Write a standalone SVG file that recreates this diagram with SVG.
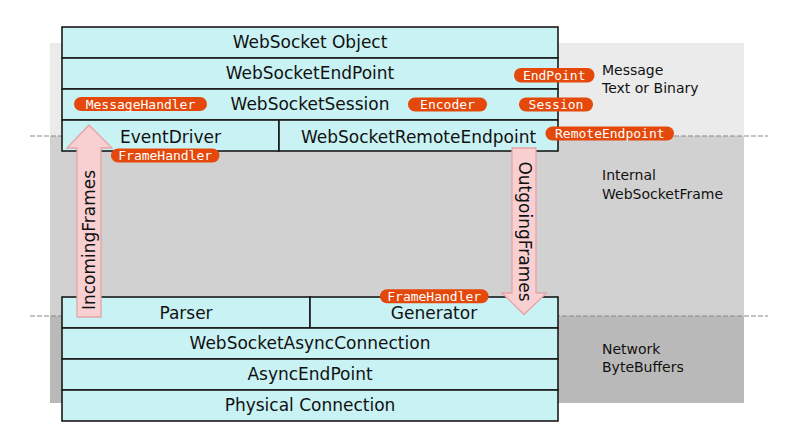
<svg xmlns="http://www.w3.org/2000/svg" width="800" height="434" viewBox="0 0 800 434">
<style>
.box{fill:#c9f2f4;stroke:#1a1a1a;stroke-width:1.6}
.t{font-family:"DejaVu Sans",sans-serif;font-size:17px;fill:#111;text-anchor:middle}
.side{font-family:"DejaVu Sans",sans-serif;font-size:14px;fill:#111}
.pill{fill:#e4490b}
.pt{font-family:"DejaVu Sans Mono",monospace;font-size:13px;fill:#fff;text-anchor:middle}
.dash{stroke:#8a8a8a;stroke-width:1.2;stroke-dasharray:5,2;fill:none}
.arrow{fill:#f8d0d1;stroke:#e6a3a6;stroke-width:1.3}
</style>
<rect width="800" height="434" fill="#ffffff"/>
<g id="bands">
<rect x="50" y="43" width="694" height="93" fill="#ebebeb"/>
<rect x="50" y="136" width="694" height="180" fill="#d1d1d1"/>
<rect x="50" y="316" width="694" height="87" fill="#b9b9b9"/>
<line class="dash" x1="30" y1="136" x2="768" y2="136"/>
<line class="dash" x1="30" y1="316" x2="768" y2="316"/>
</g>
<g id="side-labels">
<text class="side" x="602" y="74.5">Message</text>
<text class="side" x="602" y="92.5">Text or Binary</text>
<text class="side" x="602" y="180">Internal</text>
<text class="side" x="602" y="198.5">WebSocketFrame</text>
<text class="side" x="602" y="353.5">Network</text>
<text class="side" x="602" y="371.5">ByteBuffers</text>
</g>
<g id="websocket-object"><rect class="box" x="62" y="27" width="496" height="31"/><text class="t" x="310" y="48">WebSocket Object</text></g>
<g id="websocket-endpoint"><rect class="box" x="62" y="58" width="496" height="31"/><text class="t" x="310" y="79">WebSocketEndPoint</text></g>
<g id="websocket-session"><rect class="box" x="62" y="89" width="496" height="31"/><text class="t" x="310" y="110">WebSocketSession</text></g>
<g id="event-driver"><rect class="box" x="62" y="120" width="217" height="31"/><text class="t" x="170.5" y="142.5">EventDriver</text></g>
<g id="websocket-remote-endpoint"><rect class="box" x="279" y="120" width="279" height="31"/><text class="t" x="418.5" y="142.5">WebSocketRemoteEndpoint</text></g>
<g id="parser"><rect class="box" x="62" y="297" width="248" height="31"/><text class="t" x="186" y="319">Parser</text></g>
<g id="generator"><rect class="box" x="310" y="297" width="248" height="31"/><text class="t" x="434" y="319">Generator</text></g>
<g id="websocket-async-connection"><rect class="box" x="62" y="328" width="496" height="31"/><text class="t" x="310" y="349">WebSocketAsyncConnection</text></g>
<g id="async-endpoint"><rect class="box" x="62" y="359" width="496" height="31"/><text class="t" x="310" y="380">AsyncEndPoint</text></g>
<g id="physical-connection"><rect class="box" x="62" y="390" width="496" height="31"/><text class="t" x="310" y="411">Physical Connection</text></g>
<g id="connectors">
<g id="incoming-frames">
<path class="arrow" d="M89,125 L112,148 L101,148 L101,317 L77,317 L77,148 L67,148 Z"/>
<text class="t" transform="translate(94.5,240) rotate(-90)">IncomingFrames</text>
</g>
<g id="outgoing-frames">
<path class="arrow" d="M512,148 L536,148 L536,293 L546.5,293 L524,314.5 L502,293 L512,293 Z"/>
<text class="t" transform="translate(518.5,231.5) rotate(90)">OutgoingFrames</text>
</g>
</g>
<g id="pills">
<g id="pill-messagehandler"><rect class="pill" x="74" y="97" width="133" height="14" rx="7"/><text class="pt" x="140.5" y="108.5">MessageHandler</text></g>
<g id="pill-encoder"><rect class="pill" x="408" y="97.5" width="79" height="14" rx="7"/><text class="pt" x="447.5" y="109">Encoder</text></g>
<g id="pill-session"><rect class="pill" x="519" y="97.5" width="74" height="14" rx="7"/><text class="pt" x="556" y="109">Session</text></g>
<g id="pill-endpoint"><rect class="pill" x="514" y="68" width="80.5" height="14.5" rx="7"/><text class="pt" x="554.2" y="79.5">EndPoint</text></g>
<g id="pill-remoteendpoint"><rect class="pill" x="545.5" y="126.5" width="128.5" height="14" rx="7"/><text class="pt" x="609.8" y="138">RemoteEndpoint</text></g>
<g id="pill-framehandler-top"><rect class="pill" x="111" y="148.5" width="108.5" height="14" rx="7"/><text class="pt" x="165.2" y="160">FrameHandler</text></g>
<g id="pill-framehandler-bottom"><rect class="pill" x="380" y="289.3" width="108.5" height="14" rx="7"/><text class="pt" x="434.2" y="300.8">FrameHandler</text></g>
</g>
</svg>
